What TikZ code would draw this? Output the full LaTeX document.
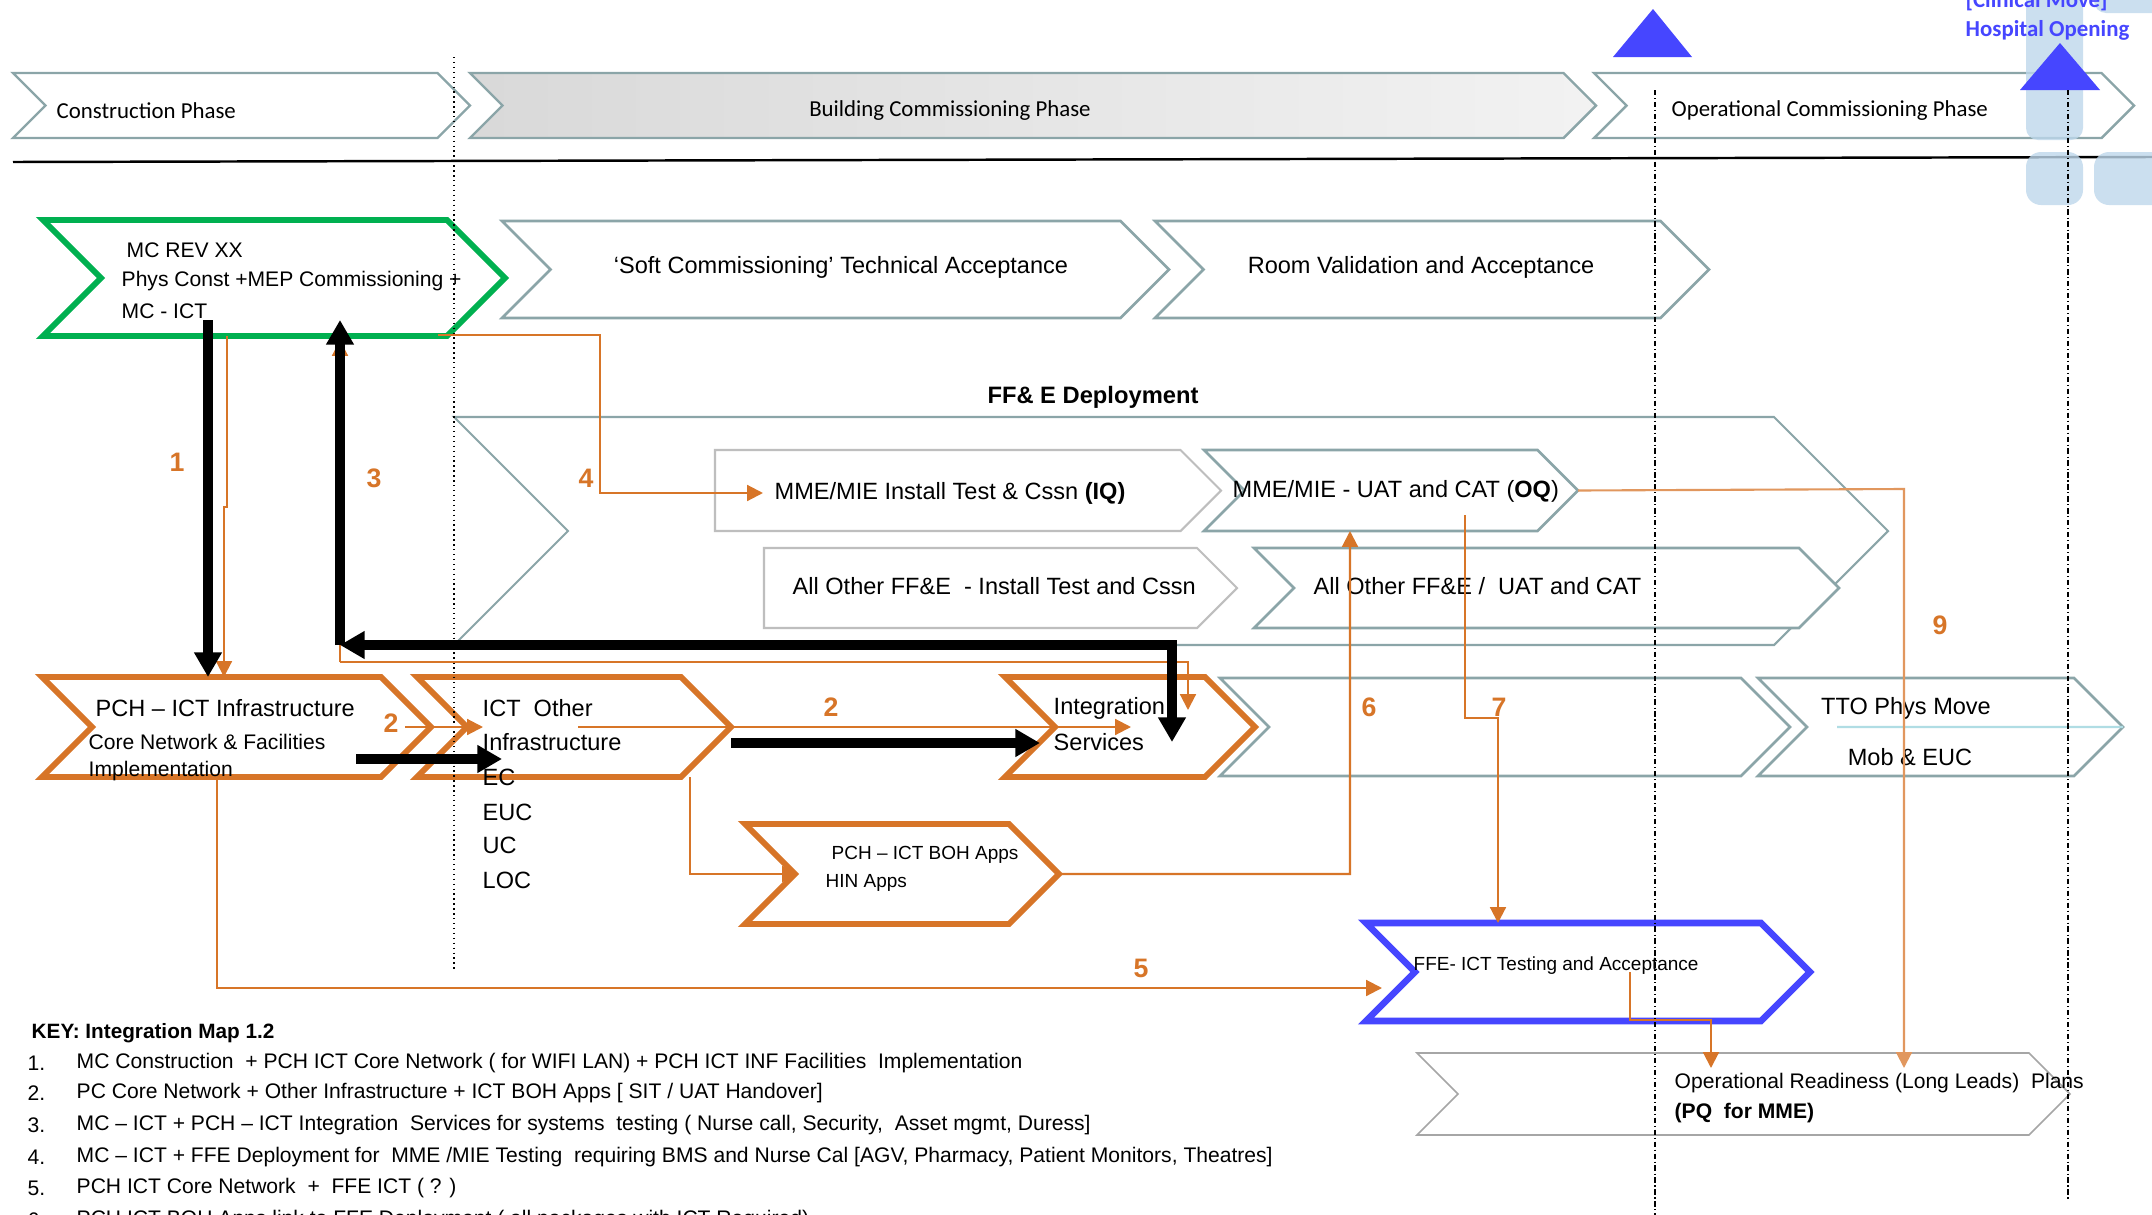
\documentclass[tikz,border=0pt]{standalone}
\usepackage{fontspec}
\setmainfont{Liberation Sans}
\newfontfamily\calibri{Carlito}
\usetikzlibrary{arrows.meta,calc,fit}

\definecolor{tealgray}{RGB}{139,165,168}
\definecolor{plategray}{RGB}{190,190,190}
\definecolor{ictorange}{RGB}{215,117,40}
\definecolor{mcgreen}{RGB}{0,176,80}
\definecolor{ffeblue}{RGB}{70,70,255}
\definecolor{logoblue}{RGB}{190,216,236}
\definecolor{ttoline}{RGB}{176,221,228}

\tikzset{
  phasebox/.style={draw=tealgray, line width=0.7pt, fill=white},
  shadedphase/.style={draw=tealgray, line width=0.7pt, left color=black!15, right color=black!5},
  stagebox/.style={draw=tealgray, line width=0.75pt, fill=white},
  platebox/.style={draw=plategray, line width=0.6pt, fill=white},
  ictbox/.style={draw=ictorange, line width=1.7pt, fill=white},
  mcbox/.style={draw=mcgreen, line width=1.7pt, fill=white},
  testbox/.style={draw=ffeblue, line width=1.9pt, fill=white},
  readybox/.style={draw=black!35, line width=0.45pt, fill=white},
  logoblock/.style={fill=logoblue, fill opacity=0.8},
  boxtext/.style={inner sep=0pt, anchor=west, font=\fontsize{6.7}{8}\selectfont},
  smalltext/.style={inner sep=0pt, anchor=west, font=\fontsize{6}{7}\selectfont},
  tinytext/.style={inner sep=0pt, anchor=west, font=\fontsize{5.4}{6.5}\selectfont},
  phasetext/.style={inner sep=0pt, font=\calibri\fontsize{6.5}{8}\selectfont},
  milestone/.style={inner sep=0pt, anchor=west, text=ffeblue, font=\calibri\bfseries\fontsize{6.5}{8}\selectfont},
  linknum/.style={inner sep=0pt, text=ictorange, font=\bfseries\fontsize{7.6}{9}\selectfont},
  keytext/.style={inner sep=0pt, anchor=west, font=\fontsize{6}{7}\selectfont},
  blkarrow/.style={line width=2.8pt, -{Triangle[length=7pt,width=7.5pt]}},
  blkboth/.style={line width=2.8pt, {Triangle[length=7pt,width=7.5pt]}-{Triangle[length=7pt,width=7.5pt]}},
  orarrow/.style={draw=ictorange, line width=0.6pt, -{Triangle[length=4.5pt,width=4.5pt]}},
  gridline/.style={line width=0.35pt, dash pattern=on 1.5pt off 0.8pt on 0.3pt off 0.8pt}
}

\begin{document}
\begin{tikzpicture}
% Chevron and plate outlines, each named by a fitted node
\def\chevron#1#2#3#4#5#6{%
  \coordinate (#1-nw) at (#3,#4);
  \coordinate (#1-se) at (#5,#6);
  \node[fit=(#1-nw)(#1-se), inner sep=0pt, outer sep=0pt] (#1) {};
  \draw[#2] let \p1=(#1-nw), \p2=(#1-se), \n1={0.5*(\y1-\y2)} in
    (\x1,\y1) -- (\x2-\n1,\y1) -- (\x2,\y1-\n1) -- (\x2-\n1,\y2) -- (\x1,\y2) -- (\x1+\n1,\y1-\n1) -- cycle;
}
\def\plate#1#2#3#4#5#6{%
  \coordinate (#1-nw) at (#3,#4);
  \coordinate (#1-se) at (#5,#6);
  \node[fit=(#1-nw)(#1-se), inner sep=0pt, outer sep=0pt] (#1) {};
  \draw[#2] let \p1=(#1-nw), \p2=(#1-se), \n1={0.5*(\y1-\y2)} in
    (\x1,\y1) -- (\x2-\n1,\y1) -- (\x2,\y1-\n1) -- (\x2-\n1,\y2) -- (\x1,\y2) -- cycle;
}

\useasboundingbox (0,0) rectangle (21.52,-12.15);
\fill[white] (0,0) rectangle (21.52,-12.15);

% Phases
\chevron{construction}{phasebox}{0.13}{-0.73}{4.70}{-1.38}
\chevron{building}{shadedphase}{4.70}{-0.73}{15.96}{-1.38}
\chevron{operational}{phasebox}{15.94}{-0.73}{21.34}{-1.38}
\node[phasetext, anchor=west] (constructiontxt) at (0.56,-1.11) {Construction Phase};
\node[phasetext] (buildingtxt) at (9.50,-1.11) {Building Commissioning Phase};
\node[phasetext, anchor=west] (operationaltxt) at (16.71,-1.11) {Operational Commissioning Phase};
\draw[line width=0.7pt] (0.13,-1.62) -- (21.52,-1.57);

% Logo blocks over the last phase
\fill[logoblock, rounded corners=0.12cm] (20.26,0.3) rectangle (20.83,-1.40);
\fill[logoblock, rounded corners=0.15cm] (20.26,-1.52) rectangle (20.83,-2.05);
\fill[logoblock, rounded corners=0.15cm] (20.94,-1.52) rectangle (21.80,-2.05);
\fill[logoblock, rounded corners=0.12cm] (20.94,0.3) rectangle (21.80,-0.13);

% Milestones
\fill[ffeblue] (16.13,-0.57) -- (16.92,-0.57) -- (16.53,-0.09) -- cycle;
\fill[ffeblue] (20.20,-0.90) -- (21.00,-0.90) -- (20.60,-0.43) -- cycle;
\node[milestone] (clinical) at (19.65,-0.01) {[Clinical Move]};
\node[milestone] (opening) at (19.65,-0.30) {Hospital Opening};

% Commissioning stages
\chevron{mcrev}{mcbox}{0.43}{-2.20}{5.05}{-3.36}
\chevron{softcomm}{stagebox}{5.02}{-2.21}{11.69}{-3.18}
\chevron{roomval}{stagebox}{11.55}{-2.21}{17.09}{-3.18}
\node[smalltext] (mcrevtxt) at (1.26,-2.50) {MC REV XX};
\node[smalltext] (physconst) at (1.21,-2.81) {Phys Const +MEP Commissioning +};
\node[smalltext] (mcict) at (1.21,-3.11) {MC - ICT};
\node[boxtext, anchor=center] (softtxt) at (8.41,-2.67) {`Soft Commissioning' Technical Acceptance};
\node[boxtext, anchor=center] (roomtxt) at (14.21,-2.67) {Room Validation and Acceptance};

% FF&E deployment
\node[boxtext, anchor=center, font=\bfseries\fontsize{6.75}{8}\selectfont] (ffetitle) at (10.93,-3.97) {FF\& E Deployment};
\chevron{ffe}{stagebox, line width=0.6pt}{4.54}{-4.17}{18.88}{-6.45}
\plate{iq}{platebox}{7.15}{-4.50}{12.21}{-5.31}
\chevron{oq}{stagebox}{12.04}{-4.50}{15.78}{-5.31}
\plate{otherinst}{platebox}{7.64}{-5.48}{12.37}{-6.28}
\chevron{otheruat}{stagebox}{12.54}{-5.48}{18.39}{-6.28}
\node[boxtext] (iqtxt) at (7.74,-4.93) {MME/MIE Install Test \& Cssn \textbf{(IQ)}};
\node[boxtext] (oqtxt) at (12.32,-4.91) {MME/MIE - UAT and CAT (\textbf{OQ})};
\node[boxtext] (otherinsttxt) at (7.92,-5.86) {All Other FF\&E\ \ - Install Test and Cssn};
\node[boxtext] (otheruattxt) at (13.13,-5.86) {All Other FF\&E /\ \ UAT and CAT};

% ICT row
\chevron{grayrow}{stagebox}{12.20}{-6.78}{17.90}{-7.76}
\chevron{tto}{stagebox}{17.58}{-6.78}{21.23}{-7.76}
\chevron{infra}{ictbox}{0.42}{-6.77}{4.31}{-7.77}
\chevron{ictother}{ictbox}{4.17}{-6.77}{7.31}{-7.77}
\chevron{integ}{ictbox}{10.05}{-6.77}{12.55}{-7.77}
\chevron{boh}{ictbox}{7.45}{-8.24}{10.59}{-9.24}
\chevron{ffeict}{testbox}{13.66}{-9.23}{18.10}{-10.21}
\chevron{opready}{readybox}{14.17}{-10.53}{20.70}{-11.35}
\draw[ttoline, line width=0.7pt] (18.37,-7.27) -- (tto.east);

\node[boxtext] (infratxt) at (0.95,-7.08) {PCH -- ICT Infrastructure};
\node[smalltext] (coretxt) at (0.88,-7.42) {Core Network \& Facilities};
\node[smalltext] (impltxt) at (0.88,-7.71) {Implementation};
\node[boxtext] (ictothertxt) at (4.82,-7.08) {ICT\ \ Other};
\node[boxtext] (infrastxt) at (4.82,-7.42) {Infrastructure};
\node[boxtext] (ectxt) at (4.82,-7.77) {EC};
\node[boxtext] (euctxt) at (4.82,-8.12) {EUC};
\node[boxtext] (uctxt) at (4.82,-8.45) {UC};
\node[boxtext] (loctxt) at (4.82,-8.80) {LOC};
\node[boxtext] (integtxt) at (10.53,-7.08) {Integration};
\node[boxtext] (servicestxt) at (10.53,-7.42) {Services};
\node[boxtext, anchor=center] (ttotxt) at (19.06,-7.08) {TTO Phys Move};
\node[boxtext, anchor=center] (mobtxt) at (19.10,-7.57) {Mob \& EUC};
\node[tinytext] (bohtxt) at (8.31,-8.55) {PCH -- ICT BOH Apps};
\node[tinytext] (hintxt) at (8.25,-8.83) {HIN Apps};
\node[tinytext] (ffeicttxt) at (14.13,-9.66) {FFE- ICT Testing and Acceptance};
\node[smalltext] (readytxt) at (16.74,-10.83) {Operational Readiness (Long Leads)\ \ Plans};
\node[smalltext] (pqtxt) at (16.74,-11.13) {\textbf{(PQ\ \ for MME)}};

% Timeline markers
\draw[densely dotted, line width=0.4pt] (4.54,-0.57) -- (4.54,-9.70);
\draw[gridline] (16.55,-0.90) -- (16.55,-12.15);
\draw[gridline] (20.68,-0.90) -- (20.68,-12.00);

% Orange links
\coordinate (o1a) at (2.27,-3.36);
\coordinate (o1b) at (2.24,-5.07);
\draw[orarrow] (o1a) |- (o1b) -- (o1b |- infra.north);
\coordinate (o3a) at (3.40,-6.62);
\coordinate (o3b) at (11.88,-6.62);
\draw[orarrow] (o3a) -- ([yshift=-0.4mm]o3a |- mcrev.south);
\draw[orarrow] (o3a) -- (o3b) -- ([yshift=-3.3mm]o3b |- integ.north);
\coordinate (o4a) at (4.38,-3.35);
\coordinate (o4b) at (6.00,-4.93);
\draw[orarrow] (o4a) -| (o4b) -- ([xshift=4.8mm]o4b -| iq.west);
\draw[orarrow] ([xshift=-2.6mm]infra.east) -- ([xshift=6.6mm]ictother.west);
\draw[orarrow] ([xshift=16.1mm]ictother.west) -- ([xshift=12.6mm]integ.west);
\coordinate (o5) at (2.17,-9.88);
\draw[orarrow] (o5 |- infra.south) -- (o5) -- ([xshift=1.6mm]o5 -| ffeict.west);
\coordinate (obh) at (6.90,-8.74);
\draw[orarrow] (obh |- ictother.south) -- (obh) -- ([xshift=5.3mm]obh -| boh.west);
\coordinate (o6) at (13.50,-8.74);
\draw[orarrow] (boh.east) -- (o6) -- (o6 |- oq.south);
\coordinate (o7a) at (14.65,-5.15);
\coordinate (o7b) at (14.98,-7.18);
\draw[orarrow] (o7a) |- (o7b) -- (o7b |- ffeict.north);
\coordinate (o8a) at (16.30,-9.72);
\coordinate (o8b) at (17.11,-10.20);
\draw[orarrow] (o8a) |- (o8b) -- ([yshift=-1.5mm]o8b |- opready.north);
\coordinate (o9) at (19.04,-4.89);
\draw[orarrow, draw=ictorange!75] (oq.east) -- (o9) -- ([yshift=-1.5mm]o9 |- opready.north);

% Black links
\coordinate (b1top) at (2.08,-3.20);
\draw[blkarrow] (b1top) -- (b1top |- infra.north);
\coordinate (b3corner) at (3.40,-6.45);
\coordinate (b3turn) at (11.72,-6.45);
\coordinate (b3end) at (11.72,-7.42);
\draw[blkarrow] (b3corner) -- ([yshift=1.6mm]b3corner |- mcrev.south);
\draw[blkboth] (b3corner) -- (b3turn) -- (b3end);
\coordinate (b2a) at (3.56,-7.59);
\coordinate (b2aend) at (5.02,-7.59);
\draw[blkarrow] (b2a) -- (b2aend);
\coordinate (b2bend) at (10.40,-7.43);
\draw[blkarrow] ([yshift=-1.6mm]ictother.east) -- (b2bend);

% Link numbers
\node[linknum] (n1) at (1.77,-4.62) {1};
\node[linknum] (n3) at (3.74,-4.78) {3};
\node[linknum] (n4) at (5.86,-4.78) {4};
\node[linknum] (n2a) at (3.91,-7.23) {2};
\node[linknum] (n2b) at (8.31,-7.07) {2};
\node[linknum] (n6) at (13.69,-7.07) {6};
\node[linknum] (n7) at (14.99,-7.07) {7};
\node[linknum] (n5) at (11.41,-9.68) {5};
\node[linknum] (n9) at (19.40,-6.25) {9};

% Key
\node[keytext, font=\bfseries\fontsize{5.9}{7}\selectfont] (key) at (0.31,-10.33) {KEY: Integration Map 1.2};
\node[keytext] (k1n) at (0.27,-10.63) {1.};
\node[keytext] (k1) at (0.76,-10.63) {MC Construction\ \ + PCH ICT Core Network ( for WIFI LAN) + PCH ICT INF Facilities\ \ Implementation};
\node[keytext] (k2n) at (0.27,-10.93) {2.};
\node[keytext] (k2) at (0.76,-10.93) {PC Core Network + Other Infrastructure + ICT BOH Apps [ SIT / UAT Handover]};
\node[keytext] (k3n) at (0.27,-11.25) {3.};
\node[keytext] (k3) at (0.76,-11.25) {MC -- ICT + PCH -- ICT Integration\ \ Services for systems\ \ testing ( Nurse call, Security,\ \ Asset mgmt, Duress]};
\node[keytext] (k4n) at (0.27,-11.57) {4.};
\node[keytext] (k4) at (0.76,-11.57) {MC -- ICT + FFE Deployment for\ \ MME /MIE Testing\ \ requiring BMS and Nurse Cal [AGV, Pharmacy, Patient Monitors, Theatres]};
\node[keytext] (k5n) at (0.27,-11.88) {5.};
\node[keytext] (k5) at (0.76,-11.88) {PCH ICT Core Network\ \ +\ \ FFE ICT ( ? )};
\node[keytext] (k6n) at (0.27,-12.20) {6.};
\node[keytext] (k6) at (0.76,-12.20) {PCH ICT BOH Apps link to FFE Deployment ( all packages with ICT Required)};
\end{tikzpicture}
\end{document}
